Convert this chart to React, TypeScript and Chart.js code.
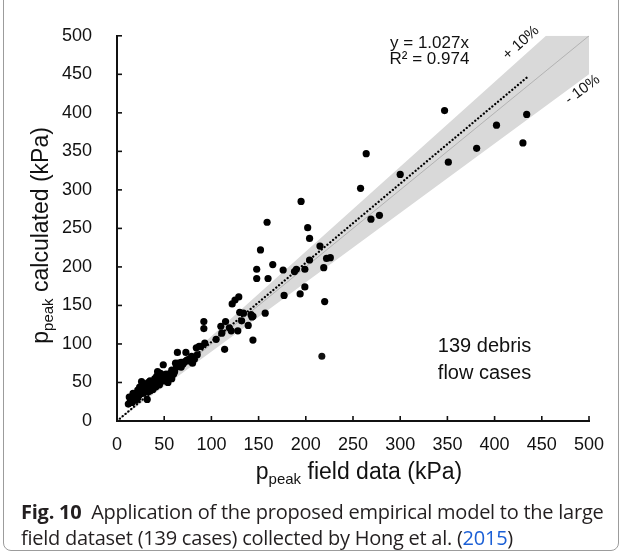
import React, { useEffect, useRef } from "react";
import { Chart, registerables } from "chart.js";

Chart.register(...registerables);

// Peak impact pressure: field measurement (x) vs. empirical model (y), kPa
const fieldKPa = [
  347, 264, 258, 300, 434, 402, 381, 351, 430, 278, 269,
  195, 159, 202, 204, 152, 215, 222, 226, 204, 219, 148, 165, 176, 188, 190, 199,
  148, 160, 199, 194, 177, 220, 129, 125, 122, 130, 134, 142, 157, 144,
  92, 92, 110, 115, 119, 128, 132, 139, 143, 121, 111, 144, 114, 93, 87, 84, 89, 105,
  73, 64, 79,
  12, 14, 15, 16, 17, 13, 18, 17, 20, 20, 21, 22, 23, 24, 24, 25, 26, 26, 27, 28,
  28, 29, 30, 31, 32, 33, 33, 34, 35, 35, 36, 37, 38, 39, 40, 41, 41, 42, 43, 43,
  44, 45, 45, 46, 47, 48, 49, 49, 50, 51, 52, 53, 54, 55, 56, 57, 58, 60, 61, 62,
  63, 65, 66, 68, 70, 72, 74, 76, 77, 80, 82, 85, 68, 58, 47, 38, 22,
];
const calculatedKPa = [
  403, 347, 302, 320, 398, 384, 354, 336, 361, 267, 262,
  285, 258, 251, 237, 222, 227, 211, 212, 209, 199, 197, 203, 196, 194, 197, 197,
  185, 185, 174, 165, 163, 155, 161, 157, 152, 141, 140, 138, 140, 136,
  129, 120, 123, 129, 121, 117, 130, 124, 135, 117, 114, 105, 93, 101, 97, 95, 97, 106,
  89, 89, 84,
  22, 25, 26, 24, 28, 31, 30, 36, 27, 32, 36, 30, 33, 38, 44, 35, 40, 51, 40, 36,
  45, 48, 42, 46, 28, 50, 38, 44, 39, 52, 47, 43, 50, 45, 55, 44, 52, 58, 64, 48,
  50, 58, 47, 62, 54, 57, 73, 52, 57, 60, 61, 56, 50, 61, 57, 62, 55, 61, 64, 75,
  70, 75, 72, 76, 74, 77, 79, 80, 78, 75, 80, 86, 70, 66, 60, 41, 40,
];

const axisTicks = [0, 50, 100, 150, 200, 250, 300, 350, 400, 450, 500];

// ±10 % envelope around the 1:1 line, clipped at the top of the axes
const bandX = [0, 454.5, 500, 500, 0];
const bandY = [0, 500, 500, 450, 0];
// 1:1 reference line
const unityX = [0, 500];
const unityY = [0, 500];
// Linear fit y = 1.027x
const fitX = [0, 435];
const fitY = [0, 446.7];

const fitLabel = "y = 1.027x";
const r2Label = "R\u00B2 = 0.974";
const legendLines = ["139 debris", "flow cases"];

const toPoints = (xs: number[], ys: number[]) => xs.map((x, i) => ({ x, y: ys[i] }));

const FONT = "'Liberation Sans', Arial, Helvetica, sans-serif";

function drawSubscripted(
  ctx: CanvasRenderingContext2D,
  base: string,
  sub: string,
  rest: string,
  size: number,
  subSize: number
) {
  ctx.font = `${size}px ${FONT}`;
  const w1 = ctx.measureText(base).width;
  const w3 = ctx.measureText(rest).width;
  ctx.font = `${subSize}px ${FONT}`;
  const w2 = ctx.measureText(sub).width;
  let x = -(w1 + w2 + w3) / 2;
  ctx.textAlign = "left";
  ctx.textBaseline = "alphabetic";
  ctx.font = `${size}px ${FONT}`;
  ctx.fillText(base, x, 0);
  x += w1;
  ctx.font = `${subSize}px ${FONT}`;
  ctx.fillText(sub, x, 5);
  x += w2;
  ctx.font = `${size}px ${FONT}`;
  ctx.fillText(rest, x, 0);
}

const decorations = {
  id: "decorations",
  afterDatasetsDraw(chart: any) {
    const { ctx, chartArea, scales } = chart;
    const xs = scales.x;
    const ys = scales.y;
    ctx.save();
    ctx.fillStyle = "#111";
    ctx.strokeStyle = "#111";

    // inward tick marks
    ctx.lineWidth = 1.6;
    for (const v of axisTicks) {
      const px = xs.getPixelForValue(v);
      ctx.beginPath();
      ctx.moveTo(px, chartArea.bottom);
      ctx.lineTo(px, chartArea.bottom - 5);
      ctx.stroke();
      const py = ys.getPixelForValue(v);
      ctx.beginPath();
      ctx.moveTo(chartArea.left, py);
      ctx.lineTo(chartArea.left + 5, py);
      ctx.stroke();
    }

    // fit equation
    ctx.font = `17px ${FONT}`;
    ctx.textAlign = "center";
    ctx.textBaseline = "middle";
    const eqX = xs.getPixelForValue(331);
    ctx.fillText(fitLabel, eqX, ys.getPixelForValue(490));
    ctx.fillText(r2Label, eqX, ys.getPixelForValue(469));

    // envelope labels
    ctx.font = `15px ${FONT}`;
    ctx.save();
    ctx.translate(xs.getPixelForValue(428), ys.getPixelForValue(491));
    ctx.rotate(-0.73);
    ctx.fillText("+ 10%", 0, 0);
    ctx.restore();
    ctx.save();
    ctx.translate(xs.getPixelForValue(493), ys.getPixelForValue(430));
    ctx.rotate(-0.64);
    ctx.fillText("- 10%", 0, 0);
    ctx.restore();

    // legend
    const lx = xs.getPixelForValue(217);
    const ly = ys.getPixelForValue(84);
    ctx.beginPath();
    ctx.arc(lx, ly, 3.5, 0, Math.PI * 2);
    ctx.fill();
    ctx.font = `20px ${FONT}`;
    ctx.textAlign = "left";
    ctx.fillText(legendLines[0], lx + 116, ly - 10);
    ctx.fillText(legendLines[1], lx + 116, ly + 17);

    // axis titles with subscript
    ctx.save();
    ctx.translate((chartArea.left + chartArea.right) / 2 + 6, chartArea.bottom + 58);
    drawSubscripted(ctx, "p", "peak", " field data (kPa)", 23, 15);
    ctx.restore();

    ctx.save();
    ctx.translate(48, (chartArea.top + chartArea.bottom) / 2 + 7);
    ctx.rotate(-Math.PI / 2);
    drawSubscripted(ctx, "p", "peak", " calculated (kPa)", 23, 15);
    ctx.restore();

    ctx.restore();
  },
};

function PressureChart() {
  const ref = useRef<HTMLCanvasElement | null>(null);

  useEffect(() => {
    if (!ref.current) return;
    const axisCommon = {
      type: "linear" as const,
      min: 0,
      max: 500,
      grid: { display: false, drawTicks: false },
      border: { display: true, color: "#111", width: 2 },
    };
    const chart = new Chart(ref.current, {
      type: "scatter",
      data: {
        datasets: [
          {
            label: "139 debris flow cases",
            data: toPoints(fieldKPa, calculatedKPa),
            pointRadius: 3.6,
            pointBackgroundColor: "#000",
            pointBorderWidth: 0,
            order: 0,
          },
          {
            label: "fit",
            data: toPoints(fitX, fitY),
            showLine: true,
            borderColor: "#000",
            borderWidth: 2.3,
            borderDash: [0.01, 3.7],
            borderCapStyle: "round",
            pointRadius: 0,
            order: 1,
          },
          {
            label: "1:1",
            data: toPoints(unityX, unityY),
            showLine: true,
            borderColor: "#a8a8a8",
            borderWidth: 0.8,
            pointRadius: 0,
            order: 2,
          },
          {
            label: "±10%",
            data: toPoints(bandX, bandY),
            showLine: true,
            fill: "shape",
            backgroundColor: "#d9d9d9",
            borderWidth: 0,
            borderColor: "rgba(0,0,0,0)",
            pointRadius: 0,
            order: 3,
          },
        ],
      },
      options: {
        responsive: false,
        animation: false,
        devicePixelRatio: 1,
        layout: { padding: { left: 0, top: 34, right: 35, bottom: 0 } },
        plugins: {
          legend: { display: false },
          tooltip: { enabled: false },
        },
        scales: {
          x: {
            ...axisCommon,
            afterFit: (s: any) => {
              s.height = 79;
            },
            ticks: {
              stepSize: 50,
              padding: 13,
              color: "#111",
              font: { family: FONT, size: 18 },
              maxRotation: 0,
            },
          },
          y: {
            ...axisCommon,
            afterFit: (s: any) => {
              s.width = 117;
            },
            ticks: {
              stepSize: 50,
              padding: 25,
              color: "#111",
              font: { family: FONT, size: 18 },
            },
          },
        },
      },
      plugins: [decorations],
    } as any);
    return () => chart.destroy();
  }, []);

  return (
    <canvas
      ref={ref}
      width={624}
      height={500}
      style={{ position: "absolute", left: 0, top: 0, width: 624, height: 500 }}
    />
  );
}

export default function App() {
  return (
    <div
      style={{
        position: "absolute",
        left: 0,
        top: 0,
        width: 624,
        height: 556,
        background: "#fff",
        overflow: "hidden",
      }}
    >
      <PressureChart />
      <div
        style={{
          position: "absolute",
          left: 3,
          top: -12,
          width: 616,
          height: 563,
          border: "1px solid #9c9c9c",
          borderRadius: 8,
          boxSizing: "border-box",
          pointerEvents: "none",
        }}
      />
      <div
        style={{
          position: "absolute",
          left: 21,
          top: 499,
          width: 600,
          fontFamily: "'Open Sans', 'Noto Sans', sans-serif",
          fontSize: 20,
          letterSpacing: "-0.25px",
          lineHeight: "26px",
          color: "#231f20",
          whiteSpace: "nowrap",
        }}
      >
        <span style={{ fontWeight: 700 }}>Fig. 10</span>
        {"\u2002Application of the proposed empirical model to the large"}
        <br />
        {"field dataset (139 cases) collected by Hong et al. ("}
        <span style={{ color: "#1a5fd6" }}>2015</span>
        {")"}
      </div>
    </div>
  );
}
